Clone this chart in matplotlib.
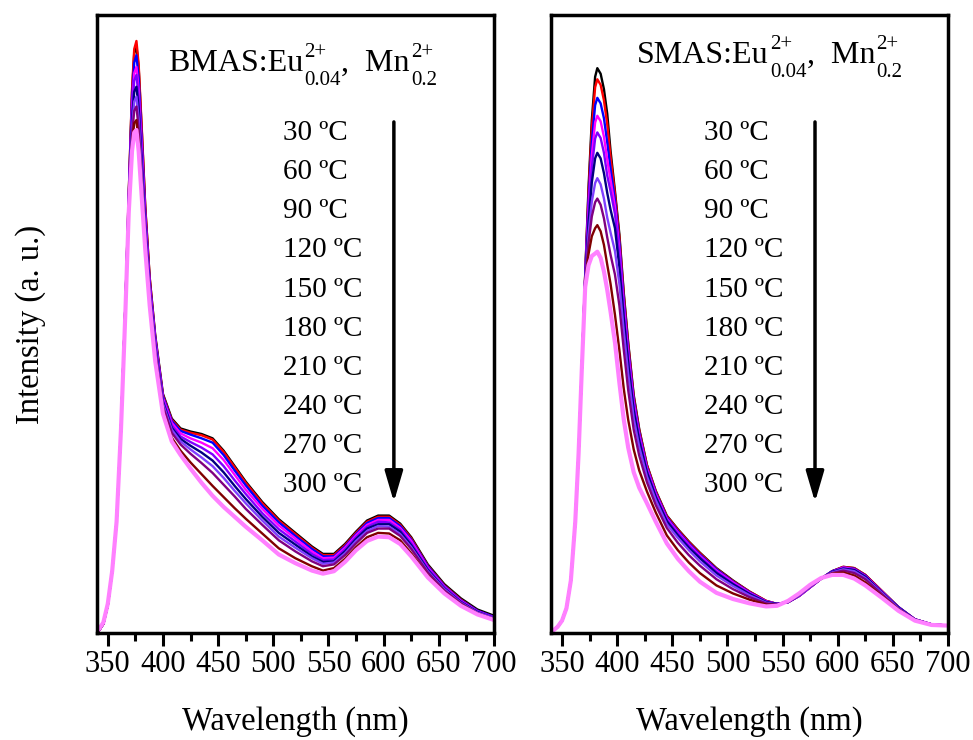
import matplotlib
matplotlib.use('Agg')
import matplotlib.pyplot as plt
from matplotlib.ticker import MultipleLocator

plt.rcParams['font.family'] = ['Liberation Serif', 'DejaVu Serif']
plt.rcParams['xtick.labelsize'] = 22

# temperatures and line colours (30 -> 300 C)
temps = ['30 ºC', '60 ºC', '90 ºC', '120 ºC', '150 ºC',
         '180 ºC', '210 ºC', '240 ºC', '270 ºC', '300 ºC']
colors = ['black', 'red', 'blue', 'magenta', '#8000ff',
          'navy', '#7f3fff', 'purple', '#800000', '#ff80ff']

# ---- BMAS:Eu0.04, Mn0.2 (left panel) ----
wl_bmas = [342, 346, 350, 354, 358, 362, 366, 369, 372, 374, 376, 378, 381, 384, 388,
           393, 400, 408, 416, 425, 435, 445, 455, 465, 475, 490, 505, 520, 535, 545,
           555, 565, 575, 585, 595, 605, 615, 625, 640, 655, 670, 685, 700]
bmas_30 = [0.004, 0.015, 0.045, 0.10, 0.18, 0.33, 0.53,
           0.71, 0.875, 0.938, 0.950, 0.915, 0.806, 0.688, 0.575,
           0.482, 0.387, 0.347, 0.331, 0.326, 0.322, 0.315, 0.295, 0.27, 0.245, 0.212, 0.184,
           0.162, 0.14, 0.128, 0.128, 0.144, 0.164, 0.182, 0.19, 0.19, 0.177, 0.155, 0.111,
           0.079, 0.056, 0.038, 0.028]
bmas_60 = [0.004, 0.015, 0.045, 0.10, 0.18, 0.33, 0.53,
           0.71, 0.88, 0.945, 0.958, 0.92, 0.81, 0.69, 0.575,
           0.48, 0.385, 0.345, 0.329, 0.324, 0.32, 0.313, 0.293, 0.268, 0.243, 0.21, 0.182,
           0.16, 0.138, 0.126, 0.126, 0.142, 0.162, 0.18, 0.188, 0.188, 0.175, 0.153, 0.109,
           0.077, 0.054, 0.036, 0.026]
bmas_90 = [0.004, 0.015, 0.045, 0.10, 0.18, 0.33, 0.53,
           0.705, 0.864, 0.923, 0.935, 0.898, 0.792, 0.679, 0.568,
           0.478, 0.383, 0.343, 0.327, 0.321, 0.315, 0.308, 0.288, 0.263, 0.239, 0.206, 0.179,
           0.157, 0.136, 0.124, 0.124, 0.14, 0.16, 0.178, 0.186, 0.186, 0.173, 0.151, 0.108,
           0.076, 0.053, 0.036, 0.026]
bmas_120 = [0.004, 0.015, 0.045, 0.10, 0.18, 0.33, 0.53,
            0.701, 0.851, 0.906, 0.916, 0.879, 0.778, 0.67, 0.562,
            0.474, 0.38, 0.34, 0.323, 0.315, 0.308, 0.299, 0.28, 0.256, 0.232, 0.201, 0.174,
            0.153, 0.132, 0.121, 0.122, 0.138, 0.158, 0.175, 0.183, 0.183, 0.17, 0.149, 0.106,
            0.075, 0.052, 0.035, 0.025]
bmas_150 = [0.004, 0.015, 0.045, 0.10, 0.18, 0.33, 0.53,
            0.699, 0.842, 0.894, 0.903, 0.867, 0.768, 0.663, 0.558,
            0.47, 0.377, 0.336, 0.318, 0.309, 0.30, 0.289, 0.27, 0.247, 0.225, 0.194, 0.168,
            0.148, 0.128, 0.118, 0.119, 0.135, 0.155, 0.172, 0.18, 0.179, 0.167, 0.145, 0.104,
            0.074, 0.051, 0.034, 0.025]
bmas_180 = [0.004, 0.015, 0.045, 0.10, 0.18, 0.33, 0.53,
            0.695, 0.829, 0.876, 0.884, 0.849, 0.754, 0.654, 0.552,
            0.465, 0.374, 0.332, 0.314, 0.303, 0.292, 0.279, 0.26, 0.238, 0.217, 0.188, 0.162,
            0.143, 0.124, 0.115, 0.116, 0.132, 0.152, 0.169, 0.176, 0.176, 0.164, 0.142, 0.102,
            0.072, 0.05, 0.034, 0.024]
bmas_210 = [0.004, 0.015, 0.045, 0.10, 0.18, 0.33, 0.53,
            0.691, 0.817, 0.86, 0.868, 0.832, 0.741, 0.646, 0.547,
            0.461, 0.371, 0.329, 0.31, 0.297, 0.284, 0.27, 0.251, 0.23, 0.21, 0.182, 0.156,
            0.138, 0.121, 0.112, 0.114, 0.129, 0.149, 0.165, 0.173, 0.172, 0.16, 0.139, 0.1,
            0.071, 0.049, 0.033, 0.024]
bmas_240 = [0.004, 0.015, 0.045, 0.10, 0.18, 0.33, 0.53,
            0.688, 0.806, 0.845, 0.852, 0.816, 0.729, 0.638, 0.542,
            0.456, 0.367, 0.324, 0.305, 0.29, 0.275, 0.259, 0.24, 0.221, 0.201, 0.175, 0.15,
            0.132, 0.116, 0.108, 0.111, 0.126, 0.145, 0.162, 0.169, 0.169, 0.157, 0.136, 0.098,
            0.069, 0.048, 0.032, 0.023]
bmas_270 = [0.004, 0.015, 0.045, 0.10, 0.18, 0.33, 0.53,
            0.683, 0.791, 0.825, 0.83, 0.795, 0.712, 0.628, 0.535,
            0.447, 0.36, 0.316, 0.295, 0.276, 0.257, 0.238, 0.22, 0.202, 0.185, 0.161, 0.137,
            0.121, 0.108, 0.101, 0.105, 0.12, 0.139, 0.155, 0.162, 0.161, 0.15, 0.129, 0.093,
            0.066, 0.046, 0.031, 0.022]
bmas_300 = [0.006, 0.017, 0.047, 0.10, 0.18, 0.33, 0.52,
            0.68, 0.78, 0.81, 0.814, 0.78, 0.70, 0.62, 0.53,
            0.44, 0.355, 0.31, 0.288, 0.266, 0.243, 0.222, 0.204, 0.188, 0.172, 0.15, 0.127,
            0.113, 0.101, 0.096, 0.1, 0.115, 0.134, 0.149, 0.156, 0.155, 0.144, 0.124, 0.09,
            0.064, 0.044, 0.03, 0.021]

# ---- SMAS:Eu0.04, Mn0.2 (right panel) ----
wl_smas = [342, 346, 350, 354, 358, 362, 365, 368, 371, 374, 377, 380, 382, 385, 388, 391,
           394, 398, 402, 406, 410, 415, 420, 427, 435, 445, 455, 465, 475, 490, 505, 520,
           535, 545, 555, 565, 575, 585, 595, 605, 615, 625, 640, 655, 670, 685, 700]
smas_30 = [0.004, 0.01, 0.02, 0.04, 0.085, 0.18, 0.29, 0.43,
           0.58, 0.72, 0.83, 0.90, 0.914, 0.905, 0.88, 0.84, 0.78, 0.715, 0.645,
           0.55, 0.47, 0.385, 0.33, 0.272, 0.23, 0.19, 0.168, 0.148, 0.13, 0.105, 0.085,
           0.067, 0.052, 0.047, 0.05, 0.06, 0.074, 0.088, 0.1, 0.107, 0.105, 0.094, 0.068,
           0.042, 0.022, 0.014, 0.012]
smas_60 = [0.004, 0.01, 0.02, 0.04, 0.085, 0.18, 0.29, 0.43,
           0.579, 0.712, 0.817, 0.883, 0.896, 0.887, 0.862, 0.823, 0.77, 0.71, 0.64,
           0.546, 0.467, 0.382, 0.328, 0.271, 0.229, 0.189, 0.167, 0.147, 0.129, 0.104, 0.084,
           0.067, 0.052, 0.047, 0.05, 0.06, 0.074, 0.088, 0.1, 0.107, 0.105, 0.094, 0.068,
           0.042, 0.022, 0.014, 0.012]
smas_90 = [0.004, 0.01, 0.02, 0.04, 0.085, 0.18, 0.29, 0.43,
           0.577, 0.70, 0.795, 0.854, 0.866, 0.857, 0.833, 0.794, 0.751, 0.70, 0.631,
           0.538, 0.46, 0.377, 0.324, 0.268, 0.227, 0.187, 0.165, 0.145, 0.127, 0.103, 0.083,
           0.066, 0.051, 0.047, 0.05, 0.06, 0.074, 0.088, 0.1, 0.106, 0.104, 0.093, 0.067,
           0.042, 0.022, 0.014, 0.012]
smas_120 = [0.004, 0.01, 0.02, 0.04, 0.085, 0.18, 0.29, 0.43,
            0.575, 0.687, 0.773, 0.826, 0.837, 0.828, 0.803, 0.766, 0.733, 0.69, 0.621,
            0.529, 0.453, 0.372, 0.32, 0.266, 0.225, 0.185, 0.163, 0.143, 0.125, 0.101, 0.082,
            0.065, 0.051, 0.047, 0.05, 0.06, 0.074, 0.088, 0.099, 0.106, 0.103, 0.092, 0.067,
            0.041, 0.022, 0.014, 0.012]
smas_150 = [0.004, 0.01, 0.02, 0.04, 0.085, 0.18, 0.29, 0.43,
            0.573, 0.676, 0.753, 0.80, 0.81, 0.801, 0.777, 0.74, 0.715, 0.678, 0.609,
            0.519, 0.444, 0.366, 0.316, 0.263, 0.222, 0.183, 0.161, 0.141, 0.123, 0.099, 0.08,
            0.064, 0.051, 0.047, 0.05, 0.061, 0.075, 0.088, 0.099, 0.105, 0.102, 0.091, 0.066,
            0.041, 0.022, 0.014, 0.012]
smas_180 = [0.004, 0.01, 0.02, 0.04, 0.085, 0.18, 0.29, 0.43,
            0.571, 0.662, 0.729, 0.768, 0.777, 0.768, 0.744, 0.712, 0.685, 0.655, 0.592,
            0.509, 0.436, 0.36, 0.311, 0.26, 0.22, 0.181, 0.158, 0.138, 0.121, 0.097, 0.079,
            0.063, 0.05, 0.047, 0.05, 0.061, 0.075, 0.088, 0.099, 0.104, 0.102, 0.091, 0.066,
            0.041, 0.022, 0.014, 0.012]
smas_210 = [0.004, 0.01, 0.02, 0.04, 0.085, 0.18, 0.29, 0.43,
            0.568, 0.645, 0.698, 0.728, 0.736, 0.726, 0.703, 0.672, 0.648, 0.618, 0.565,
            0.488, 0.419, 0.347, 0.301, 0.253, 0.215, 0.176, 0.154, 0.134, 0.116, 0.093, 0.076,
            0.061, 0.049, 0.046, 0.051, 0.061, 0.075, 0.088, 0.098, 0.103, 0.1, 0.089, 0.065,
            0.04, 0.021, 0.014, 0.012]
smas_240 = [0.004, 0.01, 0.02, 0.04, 0.085, 0.18, 0.29, 0.43,
            0.566, 0.631, 0.674, 0.697, 0.703, 0.693, 0.671, 0.64, 0.612, 0.58, 0.53,
            0.458, 0.393, 0.329, 0.287, 0.244, 0.207, 0.17, 0.146, 0.126, 0.109, 0.087, 0.071,
            0.058, 0.048, 0.046, 0.051, 0.062, 0.076, 0.088, 0.097, 0.101, 0.097, 0.087, 0.063,
            0.039, 0.021, 0.014, 0.012]
smas_270 = [0.004, 0.01, 0.02, 0.04, 0.085, 0.18, 0.29, 0.43,
            0.563, 0.613, 0.642, 0.655, 0.66, 0.65, 0.628, 0.596, 0.565, 0.515, 0.458,
            0.395, 0.345, 0.297, 0.263, 0.229, 0.195, 0.158, 0.134, 0.114, 0.097, 0.077, 0.064,
            0.054, 0.046, 0.045, 0.051, 0.063, 0.077, 0.089, 0.096, 0.098, 0.093, 0.082, 0.06,
            0.038, 0.021, 0.013, 0.012]
smas_300 = [0.004, 0.01, 0.02, 0.04, 0.085, 0.18, 0.29, 0.43,
            0.56, 0.595, 0.61, 0.614, 0.617, 0.607, 0.585, 0.555, 0.52, 0.47, 0.405,
            0.345, 0.3, 0.26, 0.235, 0.21, 0.18, 0.145, 0.12, 0.1, 0.083, 0.065, 0.055,
            0.048, 0.043, 0.044, 0.052, 0.064, 0.078, 0.089, 0.094, 0.094, 0.088, 0.077, 0.057,
            0.036, 0.02, 0.013, 0.012]

bmas = [bmas_30, bmas_60, bmas_90, bmas_120, bmas_150,
        bmas_180, bmas_210, bmas_240, bmas_270, bmas_300]
smas = [smas_30, smas_60, smas_90, smas_120, smas_150,
        smas_180, smas_210, smas_240, smas_270, smas_300]


def formula(ax, x, y, host):
    # host:Eu(2+, 0.04),  Mn(2+, 0.2) written with stacked super/subscripts
    big, small = 23, 15
    t1 = ax.text(x, y, host + ':Eu', transform=ax.transAxes, fontsize=big, va='baseline')
    ax.annotate('2+', xy=(1, y), xycoords=(t1, 'axes fraction'), xytext=(1, 10),
                textcoords='offset points', fontsize=small, va='baseline')
    s1 = ax.annotate('0.04', xy=(1, y), xycoords=(t1, 'axes fraction'), xytext=(1, -10),
                     textcoords='offset points', fontsize=small, va='baseline')
    t2 = ax.annotate(',  Mn', xy=(1, y), xycoords=(s1, 'axes fraction'), xytext=(0, 0),
                     textcoords='offset points', fontsize=big, va='baseline')
    ax.annotate('2+', xy=(1, y), xycoords=(t2, 'axes fraction'), xytext=(1, 10),
                textcoords='offset points', fontsize=small, va='baseline')
    ax.annotate('0.2', xy=(1, y), xycoords=(t2, 'axes fraction'), xytext=(1, -10),
                textcoords='offset points', fontsize=small, va='baseline')


fig = plt.figure(figsize=(9.73, 7.4), dpi=100)
ax1 = fig.add_axes([0.0994, 0.1446, 0.4083, 0.8351])
ax2 = fig.add_axes([0.5663, 0.1446, 0.4080, 0.8351])

panels = [
    (ax1, wl_bmas, bmas, 'BMAS', 0.179, 0.909, 0.469, 0.748),
    (ax2, wl_smas, smas, 'SMAS', 0.217, 0.922, 0.385, 0.665),
]

for ax, wl, curves, host, tx, ty, lx, arrow_x in panels:
    for i in range(len(curves)):
        lw = 3.0 if i == len(curves) - 1 else 1.7
        ax.plot(wl, curves[i], color=colors[i], lw=lw, solid_capstyle='round')
    ax.set_xlim(340, 700)
    ax.set_ylim(0, 1)
    ax.xaxis.set_major_locator(MultipleLocator(50))
    ax.xaxis.set_minor_locator(MultipleLocator(25))
    ax.set_yticks([])
    ax.tick_params(axis='x', which='major', direction='out', length=9.5, width=2.2,
                   labelsize=22, pad=3)
    ax.tick_params(axis='x', which='minor', direction='out', length=6, width=2.2)
    for s in ax.spines.values():
        s.set_linewidth(2.5)
    ax.set_xlabel('Wavelength (nm)', fontsize=23.5)
    ax.xaxis.set_label_coords(0.5, -0.118)
    formula(ax, tx, ty, host)
    # temperature list
    for k in range(len(temps)):
        ax.text(lx, 0.809 - k * 0.0633, temps[k], transform=ax.transAxes,
                fontsize=21, va='center')
    ax.annotate('', xy=(arrow_x, 0.212), xytext=(arrow_x, 0.827),
                xycoords='axes fraction', textcoords='axes fraction',
                arrowprops=dict(arrowstyle='-|>,head_length=0.75,head_width=0.22',
                                mutation_scale=25, lw=2.5, color='black',
                                shrinkA=0, shrinkB=0))

ax1.set_ylabel('Intensity (a. u.)', fontsize=23.5)
ax1.yaxis.set_label_coords(-0.128, 0.5)

fig.savefig('out.png', dpi=100)
